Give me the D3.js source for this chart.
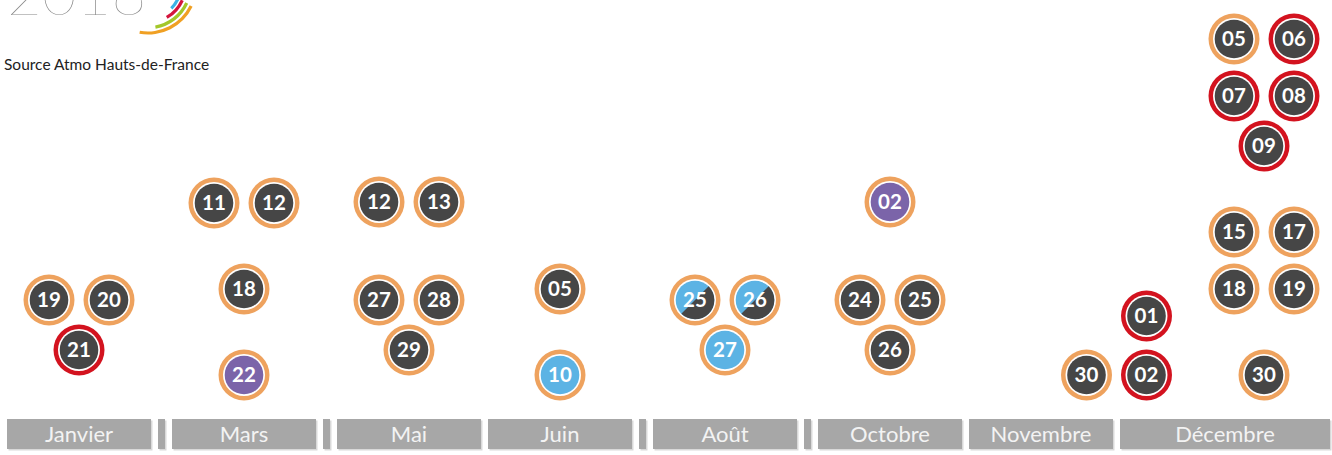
<!DOCTYPE html>
<html>
<head>
<meta charset="utf-8">
<script src="https://cdn.jsdelivr.net/npm/d3@7"></script>
<style>
  body { margin: 0; background: #fff; }
  svg { display: block; font-family: Lato, "Open Sans", sans-serif; }
</style>
</head>
<body>
<div id="chart-area"></div>
<script>
// months of the year (bar labels)
const months = ["Janvier", "Février", "Mars", "Avril", "Mai", "Juin", "Juillet",
  "Août", "Septembre", "Octobre", "Novembre", "Décembre"]

// days with a pollution procedure in 2018
const days = [
  "2018-01-19", "2018-01-20", "2018-01-21",
  "2018-03-11", "2018-03-12", "2018-03-18", "2018-03-22",
  "2018-05-12", "2018-05-13", "2018-05-27", "2018-05-28", "2018-05-29",
  "2018-06-05", "2018-06-10",
  "2018-08-25", "2018-08-26", "2018-08-27",
  "2018-10-02", "2018-10-24", "2018-10-25", "2018-10-26",
  "2018-11-30", "2018-12-01", "2018-12-02",
  "2018-12-05", "2018-12-06", "2018-12-07", "2018-12-08", "2018-12-09",
  "2018-12-15", "2018-12-17", "2018-12-18", "2018-12-19",
  "2018-12-30"
]
const pollutants = [
  "PM10", "PM10", "PM10",
  "PM10", "PM10", "PM10", "NO2",
  "PM10", "PM10", "PM10", "PM10", "PM10",
  "PM10", "O3",
  "O3+PM10", "O3+PM10", "O3",
  "NO2", "PM10", "PM10", "PM10",
  "PM10", "PM10", "PM10",
  "PM10", "PM10", "PM10", "PM10", "PM10",
  "PM10", "PM10", "PM10", "PM10",
  "PM10"
]
const levels = [
  "info", "info", "alerte",
  "info", "info", "info", "info",
  "info", "info", "info", "info", "info",
  "info", "info",
  "info", "info", "info",
  "info", "info", "info", "info",
  "info", "alerte", "alerte",
  "info", "alerte", "alerte", "alerte", "alerte",
  "info", "info", "info", "info",
  "info"
]

const fillColor = { PM10: "#464646", O3: "#5cb3e4", NO2: "#7b64a9" }
const ringColor = { info: "#eea25e", alerte: "#d3131f" }

const width = 1332
const height = 455

const svg = d3.select("#chart-area").append("svg")
  .attr('width', width)
  .attr('height', height)

// ---- header
svg.append('text')
  .attr('x', 7)
  .attr('y', 15)
  .attr('font-size', '60px')
  .attr('font-weight', 100)
  .attr('fill', '#8a8a8a')
  .text('2018')

const arcCenter = [148, -15]
const logoArcs = [
  { r: 33, a0: 115, a1: 135, c: "#3bb3e6" },
  { r: 37.5, a0: 114, a1: 150, c: "#d4143c" },
  { r: 42.7, a0: 115, a1: 170, c: "#a3c72a" },
  { r: 48, a0: 116, a1: 190, c: "#f0a023" }
]
svg.append('g')
  .attr('transform', `translate(${arcCenter[0]},${arcCenter[1]})`)
  .selectAll('path')
  .data(logoArcs)
  .enter().append('path')
  .attr('d', e => d3.arc()({
    innerRadius: e.r - 1.6, outerRadius: e.r + 1.6,
    startAngle: e.a0 * Math.PI / 180, endAngle: e.a1 * Math.PI / 180,
    cornerRadius: 1.5
  }))
  .attr('fill', e => e.c)

svg.append('text')
  .attr('x', 4)
  .attr('y', 70)
  .attr('font-size', '15.5px')
  .attr('fill', '#222')
  .text('Source Atmo Hauts-de-France')

// ---- data
const parse = d3.timeParse("%Y-%m-%d")
const data = days.map((d, i) => {
  const date = parse(d)
  return { date, label: d3.timeFormat("%d")(date), month: date.getMonth(), pol: pollutants[i], lvl: levels[i] }
})

// ---- month bars (months with no day are narrow)
const fullW = 144, narrowW = 7, gap = 7, left = 7, barTop = 419, barH = 30
const active = new Set(data.map(e => e.month))
let cursor = 0
const bars = months.map((m, i) => {
  const w = active.has(i) ? fullW : narrowW
  const b = { name: m, i, start: cursor, w, full: active.has(i) }
  cursor += w + gap
  return b
})
// the last month runs to the right edge
bars[11].w = width - 2 - left - bars[11].start

const x = d3.scaleLinear()
  .domain([0, cursor])
  .range([left, left + cursor])

const barG = svg.append('g')
barG.selectAll('rect.shadow').data(bars).enter().append('rect')
  .attr('class', 'shadow')
  .attr('x', e => x(e.start) + 1.5)
  .attr('y', barTop + 1.5)
  .attr('width', e => e.w)
  .attr('height', barH)
  .attr('fill', '#d9d9d9')
barG.selectAll('rect.bar').data(bars).enter().append('rect')
  .attr('class', 'bar')
  .attr('x', e => x(e.start))
  .attr('y', barTop)
  .attr('width', e => e.w)
  .attr('height', barH)
  .attr('fill', '#a7a7a7')
barG.selectAll('text').data(bars.filter(e => e.full)).enter().append('text')
  .attr('x', e => x(e.start + e.w / 2))
  .attr('y', barTop + barH / 2)
  .attr('dy', '0.36em')
  .attr('text-anchor', 'middle')
  .attr('font-size', '22px')
  .attr('fill', '#f3f3f3')
  .text(e => e.name)

// ---- episodes: consecutive days (gap of 2 days max)
const episodes = []
data.forEach((e, i) => {
  if (i === 0 || d3.timeDay.count(data[i - 1].date, e.date) > 2) episodes.push([])
  episodes[episodes.length - 1].push(e)
})

const dxStep = 30, pairPitch = 57, nestPitch = 50, colPitch = 59
const groups = new Map()
episodes.forEach(ep => {
  const ms = Array.from(new Set(ep.map(e => e.month)))
  let key, center
  if (ms.length > 1) {
    key = ms.join('-')
    center = bars[ms[0]].start + bars[ms[0]].w + gap / 2
    ms.forEach((m, k) => {
      const col = ep.filter(e => e.month === m)
      col.forEach((e, j) => { e.dx = k === 0 ? -dxStep : dxStep; e.rel = j * colPitch })
      const span = (col.length - 1) * colPitch
      col.forEach(e => { e.rel = e.rel - span })
    })
    ep.span = d3.max(ep, e => -e.rel)
    ep.nested = false
  } else {
    key = String(ms[0])
    const b = bars[ms[0]]
    // a month that starts with a shared episode gets its own group shifted
    const shared = episodes.some(o => o !== ep && new Set(o.map(e => e.month)).size > 1 && o[o.length - 1].month === ms[0])
    center = b.start + fullW / 2 + (shared ? fullW / 2 : 0)
    let rel = 0
    const pairs = Math.floor(ep.length / 2)
    for (let k = 0; k < pairs; k++) {
      ep[2 * k].dx = -dxStep; ep[2 * k].rel = rel
      ep[2 * k + 1].dx = dxStep; ep[2 * k + 1].rel = rel
      if (k < pairs - 1) rel += pairPitch
    }
    ep.nested = ep.length % 2 === 1 && pairs > 0
    if (ep.length % 2 === 1) {
      if (pairs > 0) rel += nestPitch
      const last = ep[ep.length - 1]
      last.dx = 0; last.rel = rel
    }
    ep.span = rel
    ep.forEach(e => { e.rel = e.rel - rel })
  }
  ep.center = center
  if (!groups.has(key)) groups.set(key, [])
  groups.get(key).push(ep)
})

// stack episodes bottom-up, latest at the bottom
const y = d3.scaleLinear()
  .domain([0, 375])
  .range([375, 0])
groups.forEach(list => {
  let base = 0
  list.slice().reverse().forEach((ep, k) => {
    if (k === 0 && ep.nested) base = 25
    ep.forEach(e => { e.cx = x(ep.center + e.dx); e.cy = y(base - e.rel) })
    base = base + ep.span + 86 + (ep.nested ? 12 : 0)
  })
})

// ---- circles
const dot = svg.append('g').selectAll('g')
  .data(data)
  .enter().append('g')
  .attr('transform', e => `translate(${e.cx},${e.cy})`)

dot.append('circle').attr('r', 25.5).attr('fill', e => ringColor[e.lvl])
dot.append('circle').attr('r', 21).attr('fill', '#fff')
dot.append('circle').attr('r', 19.3)
  .attr('fill', e => e.pol.includes('O3') ? fillColor.O3 : fillColor[e.pol])
dot.filter(e => e.pol === 'O3+PM10').append('path')
  .attr('d', d3.arc()({ innerRadius: 0, outerRadius: 19.3, startAngle: Math.PI / 4, endAngle: Math.PI * 5 / 4 }))
  .attr('fill', fillColor.PM10)
dot.append('text')
  .attr('text-anchor', 'middle')
  .attr('dy', '0.36em')
  .attr('font-size', '20.5px')
  .attr('font-weight', 700)
  .attr('fill', '#fff')
  .text(e => e.label)
</script>
</body>
</html>
